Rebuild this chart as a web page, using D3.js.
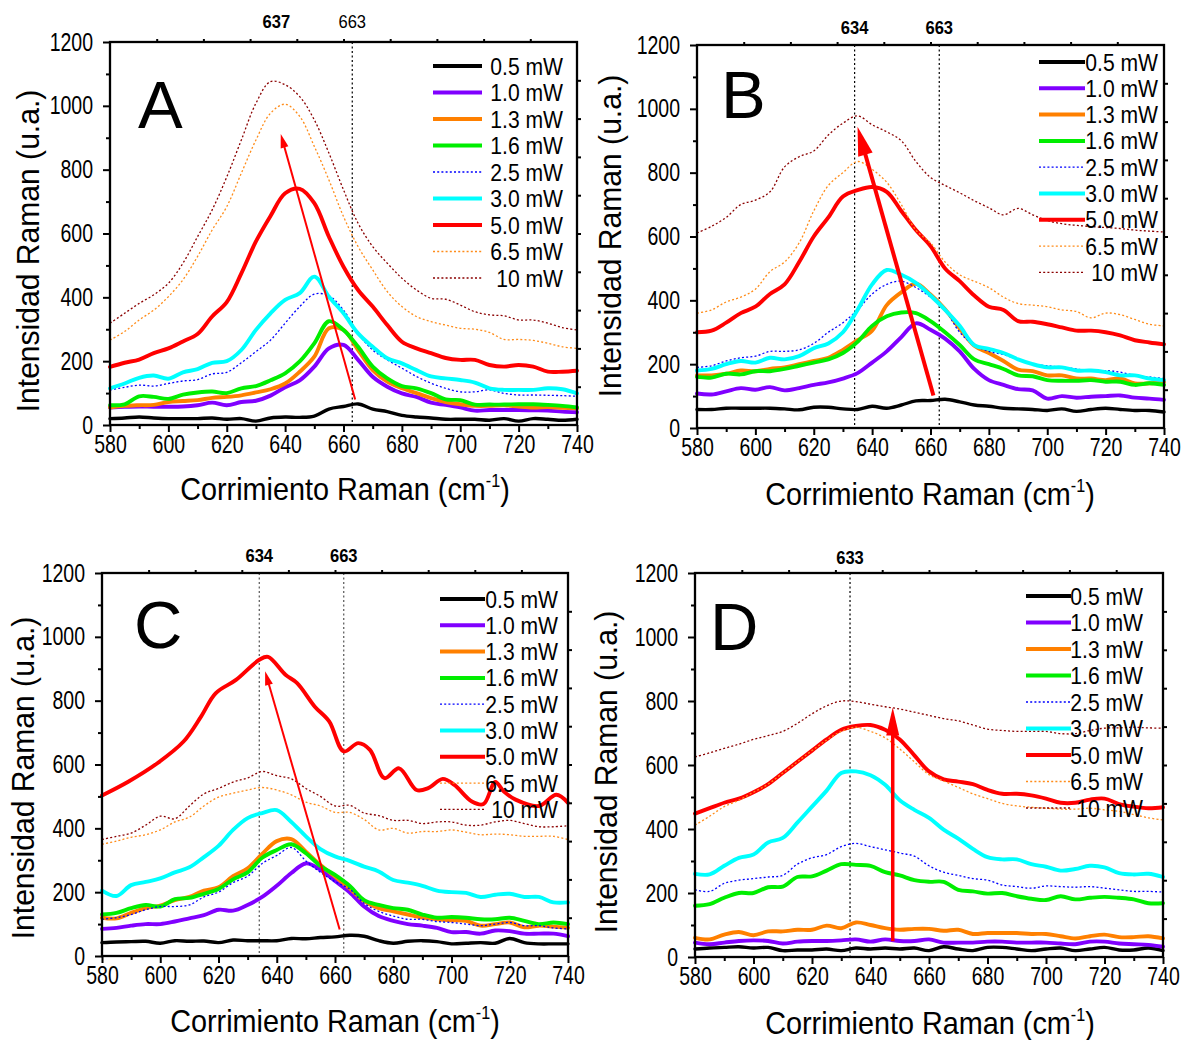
<!DOCTYPE html>
<html><head><meta charset="utf-8">
<script src="https://cdn.jsdelivr.net/npm/d3@7"></script>
<style>
body{margin:0;background:#fff}
svg{display:block}
text{font-family:"Liberation Sans",Arial,Helvetica,sans-serif;fill:#000}
</style>
</head><body>
<svg id="chart" width="1182" height="1040"></svg>
<script>
// ---------- DATA ----------
const ramanShift = [580,585,590,595,600,605,610,615,620,625,630,635,640,645,650,655,660,665,670,675,680,685,690,695,700,705,710,715,720,725,730,735,740];
const powerLabels = ["0.5 mW","1.0 mW","1.3 mW","1.6 mW","2.5 mW","3.0 mW","5.0 mW","6.5 mW","10 mW"];
const xTickValues = [580,600,620,640,660,680,700,720,740];
const yTickValues = [0,200,400,600,800,1000,1200];

// Panel A
const A_05  = [20,22,25,22,20,20,20,22,18,20,12,22,25,24,28,50,58,66,50,42,30,25,22,18,18,18,15,20,12,20,18,15,18];
const A_10  = [55,57,58,57,57,58,62,70,62,72,76,92,118,140,183,240,251,204,151,120,99,88,70,63,55,45,47,47,47,46,45,42,40];
const A_13  = [55,60,62,63,72,75,78,85,88,93,102,112,130,167,214,303,298,235,172,136,115,100,84,72,65,60,60,62,58,55,56,54,52];
const A_16  = [62,65,90,88,82,95,102,105,100,115,122,140,162,199,256,325,298,245,183,146,122,115,100,80,78,64,64,64,65,65,63,60,55];
const A_25  = [110,118,125,122,130,138,142,160,165,195,230,266,319,371,410,405,360,287,235,204,178,152,131,115,104,104,110,99,94,94,93,92,90];
const A_30  = [115,130,148,155,145,165,175,195,200,235,298,350,392,413,465,402,350,287,245,209,193,172,152,146,141,133,115,110,110,110,115,112,99];
const A_50  = [182,195,205,225,240,262,285,340,385,475,575,655,726,740,695,590,496,423,371,313,261,240,225,210,204,204,188,183,188,183,167,167,170];
const A_65  = [266,293,329,360,402,455,528,611,684,789,893,977,1005,967,873,768,653,559,486,418,371,340,324,313,303,300,290,268,268,265,256,245,240];
const A_100 = [319,350,381,408,444,507,590,674,777,893,1008,1076,1066,1029,956,852,737,632,559,507,460,423,397,394,376,355,345,342,329,329,319,305,298];

// Panel B
const B_05  = [58,58,62,62,62,62,60,57,65,65,60,58,68,62,72,85,86,90,82,72,68,62,60,58,55,60,52,58,62,58,55,55,50];
const B_10  = [108,105,115,125,120,128,118,125,135,143,155,172,205,240,285,328,308,280,240,185,150,135,122,118,92,100,95,98,100,102,95,92,88];
const B_13  = [165,165,170,180,178,185,190,200,210,220,245,275,305,385,425,452,418,372,312,258,235,210,183,178,165,165,155,155,150,155,140,140,145];
const B_16  = [160,158,170,168,178,178,185,195,205,215,235,270,320,350,362,360,335,300,260,215,200,185,165,162,150,148,148,150,145,145,135,140,135];
const B_25  = [190,195,210,220,225,240,240,245,265,300,330,370,420,450,460,440,410,370,300,260,240,230,215,200,195,190,185,178,180,175,165,160,155];
const B_30  = [180,185,200,210,205,220,215,225,250,265,300,370,450,495,480,455,415,370,320,260,248,235,215,200,190,190,180,180,175,165,165,155,150];
const B_50  = [300,305,330,360,380,420,450,520,600,660,725,745,755,740,680,620,570,500,460,415,380,370,335,333,325,315,305,305,300,290,275,268,262];
const B_65  = [360,370,395,410,435,490,520,580,680,760,800,835,810,770,700,620,580,520,480,460,440,410,390,385,380,370,365,345,360,355,340,325,320];
const B_100 = [611,632,660,700,714,740,818,850,868,918,955,978,950,928,900,835,785,760,737,712,690,668,688,668,650,640,635,631,628,625,620,617,614];

// Panel C
const C_05  = [42,44,45,46,40,48,46,47,42,50,48,48,48,55,54,58,60,65,62,48,40,46,48,45,38,40,42,40,55,42,38,38,38];
const C_10  = [85,88,95,100,100,108,118,128,145,142,160,185,220,260,290,270,235,200,155,125,110,100,95,88,75,75,70,80,78,70,70,70,62];
const C_13  = [120,118,135,150,158,175,185,205,215,250,275,320,360,366,327,285,249,212,172,150,140,130,120,115,112,110,95,100,105,90,95,92,88];
const C_16  = [130,135,150,160,155,178,182,195,210,240,262,308,332,350,322,282,254,220,175,160,150,145,130,120,122,120,115,115,120,110,100,105,100];
const C_25  = [115,120,130,145,155,155,160,185,200,230,250,290,315,340,298,262,233,210,165,140,125,115,115,108,105,100,95,100,105,95,95,88,85];
const C_30  = [205,188,222,232,243,262,278,310,345,395,432,448,457,420,375,335,312,298,280,265,238,230,220,205,200,198,185,192,195,185,185,168,168];
const C_50x = [580,589,599,608,614,619,626,634,637,643,647,653,658,663,668,672,677,682,688,692,697,701,707,711,715,718,722,730,736,740];
const C_50  = [503,546,604,672,750,823,865,928,937,881,855,782,735,641,667,646,557,588,520,526,555,536,484,476,545,515,490,470,505,480];
const C_65  = [350,360,372,380,395,420,435,470,498,510,520,528,520,505,482,470,450,450,428,395,400,385,390,390,395,388,380,382,380,375,375,375,365];
const C_100 = [365,375,385,410,438,430,470,508,525,545,558,578,565,555,525,500,470,472,448,440,425,425,415,420,420,410,410,420,425,415,405,405,408];

// Panel D
const D_05  = [25,28,30,32,28,30,20,22,22,25,20,28,25,28,25,28,20,32,25,20,30,30,25,20,25,28,20,25,30,22,22,28,20];
const D_10  = [45,40,45,50,52,50,42,48,50,50,52,55,48,55,50,50,55,45,45,45,48,48,45,45,45,42,40,48,48,42,40,38,32];
const D_13  = [60,55,70,78,68,80,80,85,85,98,90,108,100,90,85,88,88,82,85,72,75,75,75,72,72,65,58,65,70,62,62,65,58];
const D_16  = [160,165,185,200,200,218,220,250,252,270,290,288,285,265,255,240,235,235,210,205,198,200,190,182,178,190,180,185,188,185,180,168,168];
const D_25  = [210,205,230,240,245,250,255,290,310,320,345,355,345,335,325,315,285,265,255,245,240,225,220,215,222,220,218,220,215,210,205,205,203];
const D_30  = [260,258,285,310,320,358,372,420,470,520,575,580,568,538,490,460,435,398,370,338,312,305,305,290,282,270,275,285,280,262,258,260,250];
const D_50  = [448,465,482,495,515,540,575,610,645,680,710,722,725,710,680,630,580,555,548,540,522,510,510,505,495,482,482,492,495,478,470,465,468];
const D_65  = [412,440,470,490,515,540,575,610,645,678,705,718,705,685,650,610,570,550,530,510,495,480,472,468,465,462,462,465,460,455,445,435,428];
const D_100 = [625,638,652,665,680,692,705,730,760,785,800,798,790,782,775,765,755,745,738,725,712,708,705,705,705,698,698,708,715,716,718,716,715];

// Reference peaks and arrows (data units)
const A_refLines = [663];
const A_refLabels = [[637,true],[663,false]];
const B_refLines = [634,663];
const B_refLabels = [[634,true],[663,true]];
const C_refLines = [634,663];
const C_refLabels = [[634,true],[663,true]];
const D_refLines = [633];
const D_refLabels = [[633,true]];
const A_arrow = [664,80,638.5,912];
const B_arrow = [661,102,635,944];
const C_arrow = [661.6,83,636,892];
const D_arrow = [647.6,49,647.6,780];

// ---------- STYLES ----------
const seriesStyle = [
  {color:"#000000", w:3.4, dash:null},
  {color:"#8000ff", w:3.9, dash:null},
  {color:"#ff8000", w:3.9, dash:null},
  {color:"#00ee00", w:3.9, dash:null},
  {color:"#0000ff", w:1.3, dash:"2,2.2"},
  {color:"#00ffff", w:3.9, dash:null},
  {color:"#ff0000", w:3.9, dash:null},
  {color:"#ff8c1a", w:1.3, dash:"2,2.2"},
  {color:"#8b0000", w:1.3, dash:"2,2.2"}
];

const panels = [
  {name:"A", box:[110,42,577,425], series:[A_05,A_10,A_13,A_16,A_25,A_30,A_50,A_65,A_100],
   refLines:A_refLines, refLabels:A_refLabels, refBase:28, refColor:"#000",
   arrow:A_arrow, arrowW:2, headL:14, headW:8,
   legend:{x1:433,x2:482,tx:563,y0:66,dy:26.5},
   letter:[138,128], ytitle:[39,251], xtitle:[345,500]},
  {name:"B", box:[697,45,1164,428], series:[B_05,B_10,B_13,B_16,B_25,B_30,B_50,B_65,B_100],
   refLines:B_refLines, refLabels:B_refLabels, refBase:34, refColor:"#000",
   arrow:B_arrow, arrowW:4, headL:29, headW:15,
   legend:{x1:1039,x2:1085,tx:1158,y0:62,dy:26.3},
   letter:[721,118], ytitle:[621,236], xtitle:[930,505]},
  {name:"C", box:[102,573,568,956], series:[C_05,C_10,C_13,C_16,C_25,C_30,{x:C_50x,y:C_50},C_65,C_100],
   refLines:C_refLines, refLabels:C_refLabels, refBase:562, refColor:"#555",
   arrow:C_arrow, arrowW:2, headL:14, headW:8,
   legend:{x1:440,x2:485,tx:558,y0:599,dy:26.3},
   letter:[134,648], ytitle:[34,778], xtitle:[335,1032]},
  {name:"D", box:[695,573,1163,957], series:[D_05,D_10,D_13,D_16,D_25,D_30,D_50,D_65,D_100],
   refLines:D_refLines, refLabels:D_refLabels, refBase:564, refColor:"#000",
   arrow:D_arrow, arrowW:3.5, headL:28, headW:13,
   legend:{x1:1026,x2:1071,tx:1143,y0:596,dy:26.5},
   letter:[710,650], ytitle:[617,772], xtitle:[930,1034]}
];

const svg = d3.select("#chart");
const TICK_SX = 0.78, TICK_FS = 25;

function txt(g, x, y, str, o){
  o = o || {};
  return g.append("text")
    .attr("transform", `translate(${x},${y}) rotate(${o.rot||0}) scale(${o.sx||1},1)`)
    .attr("text-anchor", o.anchor||"start")
    .attr("font-size", o.size||20)
    .attr("font-weight", o.weight||"normal")
    .text(str);
}

panels.forEach(p => {
  const [L,T,R,B] = p.box;
  const g = svg.append("g");
  const x = d3.scaleLinear().domain([580,740]).range([L,R]);
  const y = d3.scaleLinear().domain([0,1200]).range([B,T]);

  // reference dotted lines
  p.refLines.forEach(v => {
    g.append("line").attr("x1",x(v)).attr("x2",x(v)).attr("y1",T).attr("y2",B)
      .attr("stroke",p.refColor).attr("stroke-width",1.2).attr("stroke-dasharray","2,2.5");
  });

  // series lines
  const line = d3.line().curve(d3.curveCatmullRom.alpha(0.5));
  p.series.forEach((s,i) => {
    const st = seriesStyle[i];
    const xs = Array.isArray(s) ? ramanShift : s.x;
    const ys = Array.isArray(s) ? s : s.y;
    const pts = xs.map((xv,k) => [x(xv), y(ys[k])]);
    g.append("path").attr("d", line(pts)).attr("fill","none")
      .attr("stroke", st.color).attr("stroke-width", st.w)
      .attr("stroke-linejoin","round").attr("stroke-linecap", st.dash ? "butt" : "round")
      .attr("stroke-dasharray", st.dash);
  });

  // arrow
  const [ax0,ay0,ax1,ay1] = p.arrow;
  const p0=[x(ax0),y(ay0)], p1=[x(ax1),y(ay1)];
  const dx=p1[0]-p0[0], dy=p1[1]-p0[1], len=Math.hypot(dx,dy);
  const ux=dx/len, uy=dy/len, nx=-uy, ny=ux;
  const bx=p1[0]-ux*p.headL, by=p1[1]-uy*p.headL;
  g.append("line").attr("x1",p0[0]).attr("y1",p0[1]).attr("x2",bx+ux*2).attr("y2",by+uy*2)
    .attr("stroke","#ff0000").attr("stroke-width",p.arrowW);
  g.append("path").attr("d",`M${p1[0]},${p1[1]}L${bx+nx*p.headW/2},${by+ny*p.headW/2}L${bx-nx*p.headW/2},${by-ny*p.headW/2}Z`)
    .attr("fill","#ff0000");

  // axes
  const bottomMajor = g.append("g").attr("transform",`translate(0,${B})`)
    .call(d3.axisBottom(x).tickValues(xTickValues).tickSize(7).tickPadding(0).tickFormat(d3.format("d")));
  g.append("g").attr("transform",`translate(0,${B})`)
    .call(d3.axisBottom(x).tickValues([590,610,630,650,670,690,710,730]).tickSize(4).tickFormat(""));
  const leftMajor = g.append("g").attr("transform",`translate(${L},0)`)
    .call(d3.axisLeft(y).tickValues(yTickValues).tickSize(7).tickFormat(d3.format("d")));
  g.append("g").attr("transform",`translate(${L},0)`)
    .call(d3.axisLeft(y).tickValues([100,300,500,700,900,1100]).tickSize(4).tickFormat(""));
  g.selectAll(".domain").remove();
  g.selectAll(".tick line").attr("stroke","#000").attr("stroke-width",2);
  bottomMajor.selectAll("text").attr("font-size",TICK_FS).attr("font-family","Liberation Sans, Arial, sans-serif")
    .attr("y",10).attr("dy","0.71em").attr("transform",`scale(${TICK_SX},1)`).attr("fill","#000");
  leftMajor.selectAll("text").attr("font-size",TICK_FS).attr("font-family","Liberation Sans, Arial, sans-serif")
    .attr("x",-17/TICK_SX).attr("dy","0.32em").attr("transform",`scale(${TICK_SX},1)`).attr("fill","#000");

  // top/right small ticks
  const tTop = g.append("g").attr("transform",`translate(0,${T})`)
    .call(d3.axisTop(x).tickValues(d3.range(1,10).map(k=>580+16*k)).tickSize(3).tickFormat(""));
  const tRight = g.append("g").attr("transform",`translate(${R},0)`)
    .call(d3.axisRight(y).tickValues(d3.range(1,10).map(k=>120*k)).tickSize(4).tickFormat(""));
  [tTop,tRight].forEach(a=>{a.select(".domain").remove(); a.selectAll("line").attr("stroke","#000").attr("stroke-width",2);});

  // frame
  g.append("rect").attr("x",L).attr("y",T).attr("width",R-L).attr("height",B-T)
    .attr("fill","none").attr("stroke","#000").attr("stroke-width",2.3);

  // reference labels
  p.refLabels.forEach(([v,bold]) => {
    txt(g, x(v), p.refBase, String(v), {anchor:"middle", size:18, weight: bold?"bold":"normal", sx:0.92});
  });

  // legend
  p.series.forEach((s,i) => {
    const st = seriesStyle[i];
    const cy = p.legend.y0 + i*p.legend.dy;
    g.append("line").attr("x1",p.legend.x1).attr("x2",p.legend.x2).attr("y1",cy).attr("y2",cy)
      .attr("stroke",st.color).attr("stroke-width", st.dash ? 1.3 : 4).attr("stroke-dasharray",st.dash);
    txt(g, p.legend.tx, cy+8.5, powerLabels[i], {anchor:"end", size:24, sx:0.88});
  });

  // panel letter
  txt(g, p.letter[0], p.letter[1], p.name, {size:67});

  // axis titles
  txt(g, p.ytitle[0], p.ytitle[1], "Intensidad Raman (u.a.)", {anchor:"middle", size:32, rot:-90, sx:0.94});
  const xt = txt(g, p.xtitle[0], p.xtitle[1], "Corrimiento Raman (cm", {anchor:"middle", size:32, sx:0.9});
  xt.append("tspan").attr("font-size",18).attr("dy",-13).text("-1");
  xt.append("tspan").attr("dy",13).text(")");
});
</script>
</body></html>
